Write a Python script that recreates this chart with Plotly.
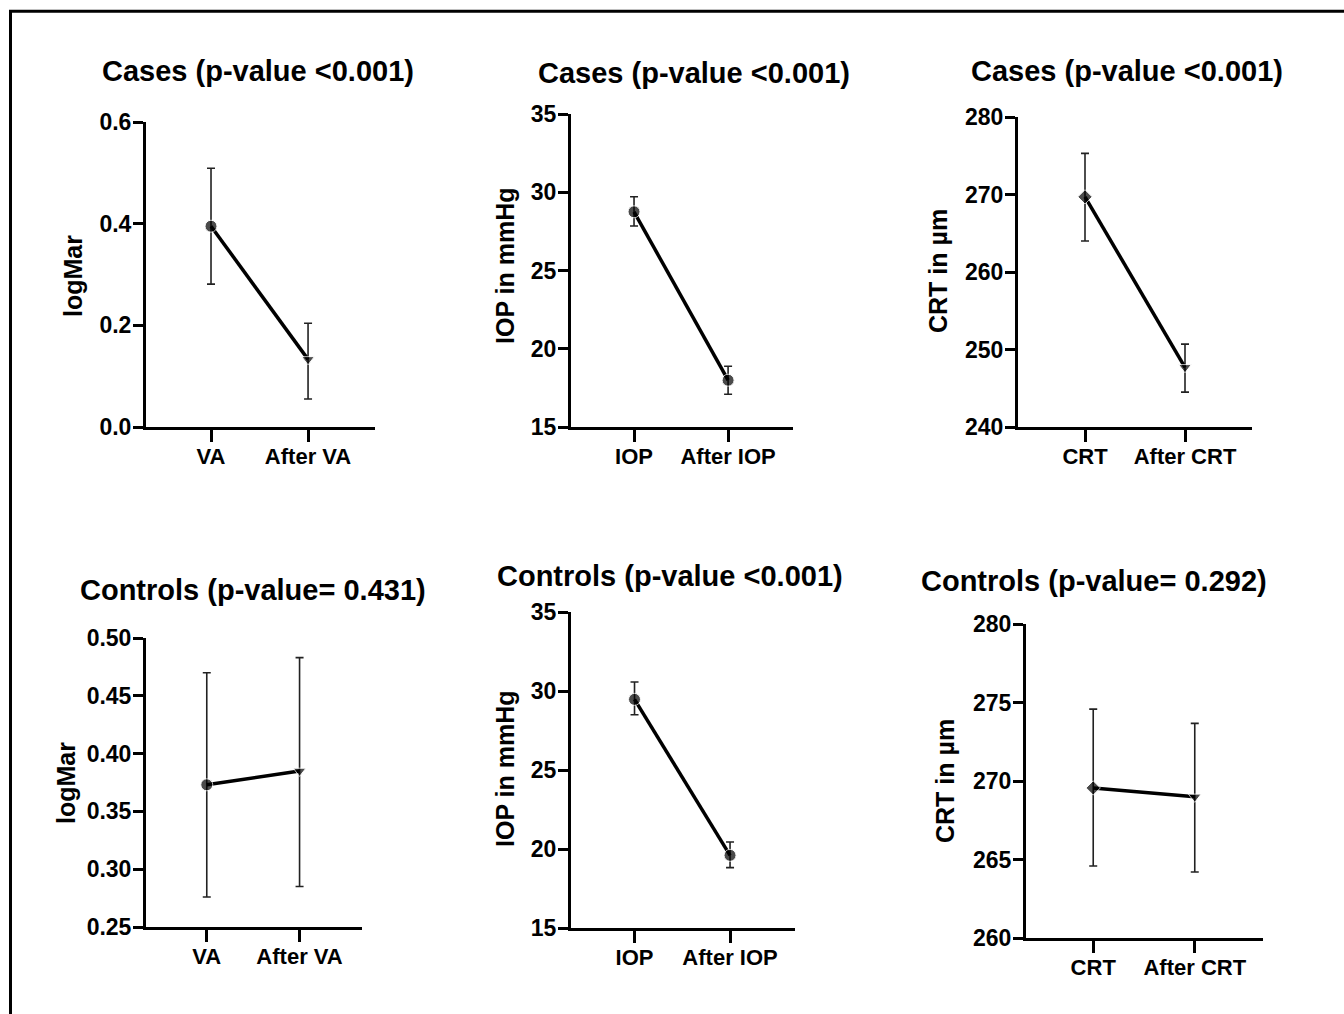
import plotly.graph_objects as go

W, H = 1344, 1014

# ---- data ----
va_cats = ["VA", "After VA"]
iop_cats = ["IOP", "After IOP"]
crt_cats = ["CRT", "After CRT"]

cases_va_mean = [0.395, 0.133]
cases_va_up = [0.114, 0.071]
cases_va_down = [0.114, 0.078]

cases_iop_mean = [28.75, 17.99]
cases_iop_up = [0.96, 0.89]
cases_iop_down = [0.91, 0.90]

cases_crt_mean = [269.7, 247.7]
cases_crt_up = [5.6, 3.0]
cases_crt_down = [5.7, 3.2]

ctrl_va_mean = [0.373, 0.385]
ctrl_va_up = [0.097, 0.098]
ctrl_va_down = [0.097, 0.100]

ctrl_iop_mean = [29.47, 19.60]
ctrl_iop_up = [1.10, 0.84]
ctrl_iop_down = [0.97, 0.78]

ctrl_crt_mean = [269.56, 268.99]
ctrl_crt_up = [5.02, 4.68]
ctrl_crt_down = [4.97, 4.79]

titles = ["Cases (p-value <0.001)", "Cases (p-value <0.001)", "Cases (p-value <0.001)",
          "Controls (p-value= 0.431)", "Controls (p-value <0.001)", "Controls (p-value= 0.292)"]
ylabels = ["logMar", "IOP in mmHg", "CRT in µm", "logMar", "IOP in mmHg", "CRT in µm"]

yticks = [[0, 0.2, 0.4, 0.6], [15, 20, 25, 30, 35], [240, 250, 260, 270, 280],
          [0.25, 0.30, 0.35, 0.40, 0.45, 0.50], [15, 20, 25, 30, 35], [260, 265, 270, 275, 280]]
ytickfmt = [".1f", "d", "d", ".2f", "d", "d"]

# ---- layout geometry (pixels) ----
panels = [
    dict(x0=146, x1=375, y0=122, y1=427, xr=[-0.67, 1.69]),
    dict(x0=571, x1=793, y0=114, y1=427, xr=[-0.67, 1.69]),
    dict(x0=1018, x1=1252, y0=117, y1=427, xr=[-0.67, 1.67]),
    dict(x0=146, x1=362, y0=638, y1=927, xr=[-0.655, 1.673]),
    dict(x0=571, x1=795, y0=612, y1=928, xr=[-0.665, 1.68]),
    dict(x0=1026, x1=1263, y0=624, y1=938, xr=[-0.662, 1.672]),
]
title_pos = [(258, 71), (694, 73), (1127, 71), (253, 590), (670, 576), (1094, 581)]
ylab_pos = [(73, 276), (505, 266), (938, 271), (66, 783), (505, 769), (945, 781)]

series = [
    (va_cats, cases_va_mean, cases_va_up, cases_va_down, ["circle", "triangle-down"]),
    (iop_cats, cases_iop_mean, cases_iop_up, cases_iop_down, ["circle", "circle"]),
    (crt_cats, cases_crt_mean, cases_crt_up, cases_crt_down, ["diamond", "triangle-down"]),
    (va_cats, ctrl_va_mean, ctrl_va_up, ctrl_va_down, ["circle", "triangle-down"]),
    (iop_cats, ctrl_iop_mean, ctrl_iop_up, ctrl_iop_down, ["circle", "circle"]),
    (crt_cats, ctrl_crt_mean, ctrl_crt_up, ctrl_crt_down, ["diamond", "triangle-down"]),
]
msizes = {"circle": 12, "triangle-down": 11, "diamond": 11}

FONT = "Liberation Sans, Arial, sans-serif"
fig = go.Figure()
annotations = []

for i, (p, s) in enumerate(zip(panels, series)):
    cats, mean, up, down, syms = s
    n = i + 1
    xa = "x" if n == 1 else f"x{n}"
    ya = "y" if n == 1 else f"y{n}"
    fig.add_trace(go.Scatter(
        x=cats, y=mean, mode="lines+markers",
        line=dict(color="black", width=3.5),
        marker=dict(symbol=syms, size=[msizes[m] for m in syms], color="black"),
        error_y=dict(type="data", symmetric=False, array=up, arrayminus=down,
                     color="#222222", thickness=1.6, width=4),
        xaxis=xa, yaxis=ya, showlegend=False, cliponaxis=False,
    ))
    xd = [p["x0"] / W, p["x1"] / W]
    yd = [1 - p["y1"] / H, 1 - p["y0"] / H]
    xkey = "xaxis" if n == 1 else f"xaxis{n}"
    ykey = "yaxis" if n == 1 else f"yaxis{n}"
    fig.layout[xkey] = dict(
        domain=xd, anchor=ya, type="category", range=p["xr"], automargin=False,
        showline=True, linecolor="black", linewidth=3, showgrid=False, zeroline=False,
        ticks="outside", ticklen=12, tickwidth=3, tickcolor="black",
        ticklabelstandoff=-4,
        tickfont=dict(family=FONT, size=22, color="black", weight="bold"),
        fixedrange=True,
    )
    fig.layout[ykey] = dict(
        domain=yd, anchor=xa, range=[yticks[i][0], yticks[i][-1]], automargin=False,
        tickvals=yticks[i], tickformat=ytickfmt[i],
        showline=True, linecolor="black", linewidth=3, showgrid=False, zeroline=False,
        ticks="outside", ticklen=10, tickwidth=3, tickcolor="black",
        ticklabelstandoff=-3,
        tickfont=dict(family=FONT, size=23, color="black", weight="bold"),
        fixedrange=True,
    )
    tx, ty = title_pos[i]
    annotations.append(dict(
        text=titles[i], x=tx / W, y=1 - ty / H, xref="paper", yref="paper",
        xanchor="center", yanchor="middle", showarrow=False,
        font=dict(family=FONT, size=29, color="black", weight="bold"),
    ))
    lx, ly = ylab_pos[i]
    annotations.append(dict(
        text=ylabels[i], x=lx / W, y=1 - ly / H, xref="paper", yref="paper",
        xanchor="center", yanchor="middle", showarrow=False, textangle=-90,
        font=dict(family=FONT, size=25, color="black", weight="bold"),
    ))

fig.update_layout(
    width=W, height=H, margin=dict(l=0, r=0, t=0, b=0, autoexpand=False),
    paper_bgcolor="white", plot_bgcolor="white",
    annotations=annotations,
    shapes=[dict(type="rect", xref="paper", yref="paper",
                 x0=10.5 / W, x1=1.02, y0=-0.02, y1=1 - 11.3 / H,
                 line=dict(color="black", width=3), fillcolor="rgba(0,0,0,0)")],
)

post = (
    "document.documentElement.style.margin='0';"
    "document.body.style.margin='0';"
    "document.body.style.overflow='hidden';"
    "var gd=document.querySelector('.plotly-graph-div');"
    "gd.style.position='absolute';gd.style.top='0px';gd.style.left='0px';"
)

fig.write_html(
    "out.html",
    config={"responsive": False, "displayModeBar": False},
    post_script=post,
)
